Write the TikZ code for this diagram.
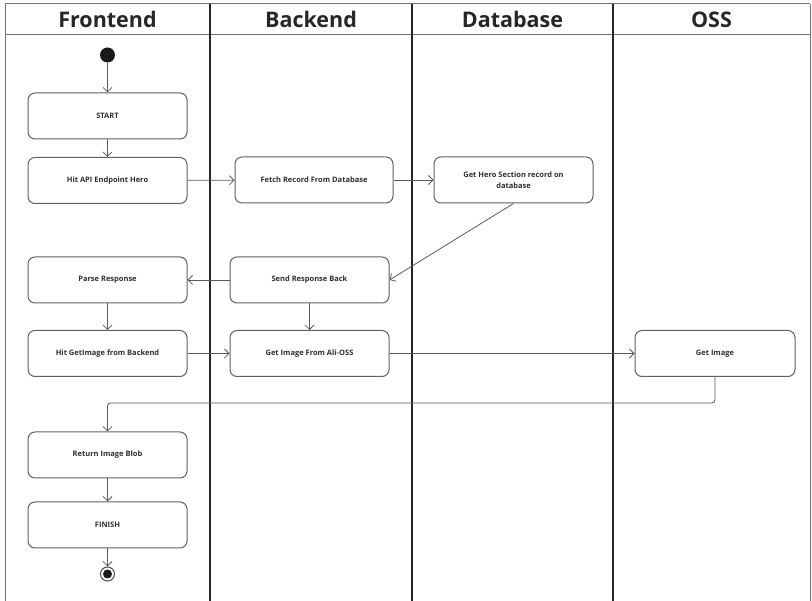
\documentclass[tikz,border=0pt]{standalone}
\usepackage{fontspec}
\setmainfont{Open Sans}
\usetikzlibrary{arrows.meta}
\begin{document}
\begin{tikzpicture}[x=1pt,y=-1pt,
  act/.style={draw=black!62, line width=1pt, rounded corners=7pt, minimum width=159pt, minimum height=46pt, inner sep=2pt, font=\fontsize{7.5}{10.5}\selectfont\bfseries, text=black!82, align=center},
  arr/.style={draw=black!65, line width=0.8pt, -{Straight Barb[length=4.5pt,width=9pt]}},
  lane/.style={draw=black!85, line width=2.2pt},
  frame/.style={draw=black!55, line width=1pt},
  head/.style={font=\fontsize{21.5}{24}\selectfont\bfseries, text=black!85}]
\useasboundingbox (0,0) rectangle (812,601);
% frame and lanes
\draw[frame] (5,4) -- (810,4);
\draw[frame] (5,35) -- (810,35);
\draw[frame] (5,4) -- (5,601);
\draw[frame] (810,4) -- (810,601);
\draw[lane] (210,4) -- (210,601);
\draw[lane] (412,4) -- (412,601);
\draw[lane] (613,4) -- (613,601);
\node[head] (hf) at (107.5,19.5) {Frontend};
\node[head] (hb) at (311,19.5) {Backend};
\node[head] (hd) at (512.5,19.5) {Database};
\node[head] (ho) at (711.5,19.5) {OSS};
% start
\node[circle, fill=black!90, minimum size=15pt, inner sep=0pt] (init) at (107.5,55) {};
% activities
\node[act] (start) at (107.5,116) {START};
\node[act] (hitapi) at (107.5,180.5) {Hit API Endpoint Hero};
\node[act, minimum width=158pt] (fetch) at (314,180) {Fetch Record From Database};
\node[act] (hero) at (513.5,180) {Get Hero Section record on\\database};
\node[act] (parse) at (107.5,280) {Parse Response};
\node[act] (send) at (309.5,280) {Send Response Back};
\node[act] (hitget) at (107.5,353.5) {Hit GetImage from Backend};
\node[act] (ali) at (309.5,353.5) {Get Image From Ali-OSS};
\node[act, minimum width=160pt] (gimg) at (715,353.5) {Get Image};
\node[act] (ret) at (107.5,455) {Return Image Blob};
\node[act] (fin) at (107.5,525) {FINISH};
% end
\node[circle, draw=black!70, line width=1pt, minimum size=14pt, inner sep=0pt] (final) at (107.5,574) {};
\node[circle, fill=black!90, minimum size=9pt, inner sep=0pt] (finaldot) at (107.5,574) {};
% connectors
\draw[arr] (init) -- (start);
\draw[arr] (start) -- (hitapi);
\draw[arr] (hitapi) -- (fetch);
\draw[arr] (fetch) -- (hero);
\draw[arr] (hero.south) -- (send.east);
\draw[arr] (send) -- (parse);
\draw[arr] (parse) -- (hitget);
\draw[arr] (send) -- (ali);
\draw[arr] (hitget) -- (ali);
\draw[arr] (ali) -- (gimg);
\coordinate (bend) at (107.5,403);
\draw[arr, rounded corners=3pt] (gimg.south) |- (bend) -- (ret.north);
\draw[arr] (ret) -- (fin);
\draw[arr] (fin) -- (final);
\end{tikzpicture}
\end{document}
